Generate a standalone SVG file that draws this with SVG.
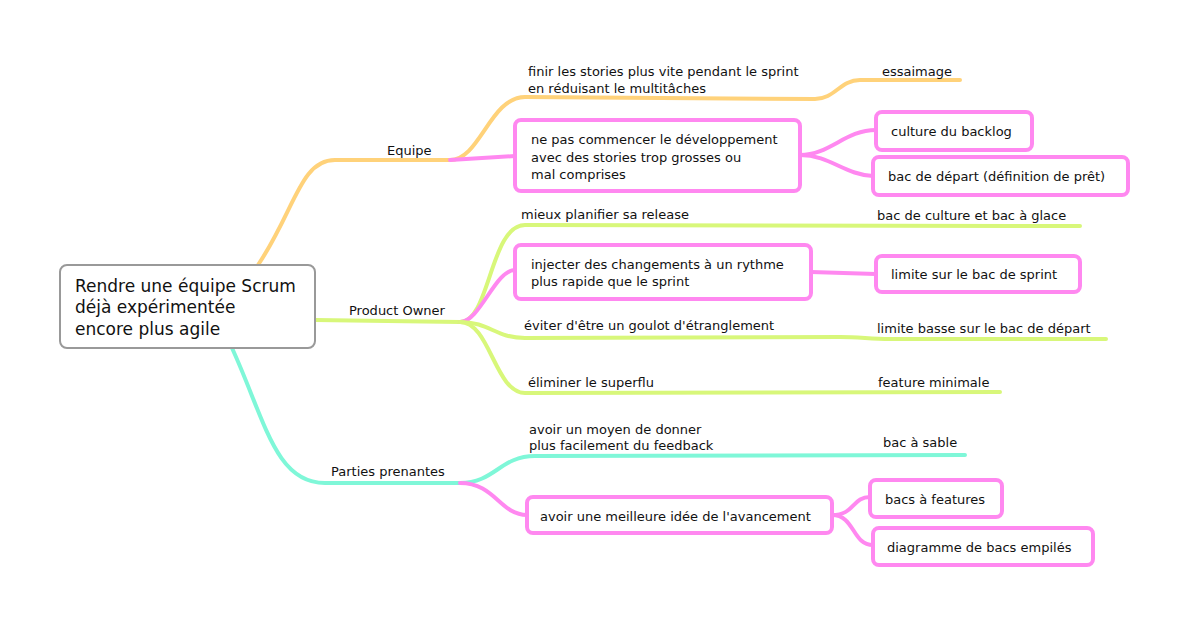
<svg xmlns="http://www.w3.org/2000/svg" width="1188" height="625" viewBox="0 0 1188 625">
<style>
text{font-family:"Lucida Grande","DejaVu Sans","Liberation Sans",sans-serif;font-size:13px;fill:#111}
.c{fill:none;stroke-width:4;stroke-linecap:round}
.o{stroke:#ffd27a}.g{stroke:#d8f77a}.t{stroke:#7ff7d8}.p{stroke:#ff88f0}
.b{fill:#fff;stroke:#ff88f0;stroke-width:4}
</style>
<rect width="1188" height="625" fill="#fff"/>
<g id="connectors">
<path class="c o" d="M258,265 C295,210 300,160 335,160 L450,160"/>
<path class="c o" d="M450,160 C480,160 490,97 525,97 L815,99 C835,99 840,80 860,80 L960,80"/>
<path class="c p" d="M450,160 L515,156"/>
<path class="c p" d="M800,155 C830,155 845,130 876,130"/>
<path class="c p" d="M800,155 C830,155 845,175 873,176"/>
<path class="c g" d="M315,320 L460,322"/>
<path class="c g" d="M460,322 C490,322 490,225 525,225 L1080,226"/>
<path class="c p" d="M460,322 C480,322 495,270 515,270"/>
<path class="c g" d="M460,322 C490,322 495,338 525,338 L840,337 C860,337 870,339 890,339 L1106,339"/>
<path class="c g" d="M460,322 C490,322 495,393 525,393 L1000,392"/>
<path class="c p" d="M811,272 L876,274"/>
<path class="c t" d="M232,348 C265,420 275,483 325,483 L460,483"/>
<path class="c t" d="M460,483 C495,483 500,456 535,456 L965,455"/>
<path class="c p" d="M460,483 C495,483 500,515 527,515"/>
<path class="c p" d="M832,515 C855,515 852,497 870,497"/>
<path class="c p" d="M832,515 C855,515 852,545 873,545"/>
</g>
<g id="root"><rect x="60" y="265" width="255" height="83" rx="7" fill="#fff" stroke="#999" stroke-width="2"/>
<text x="75" y="292" style="font-size:17px">Rendre une équipe Scrum</text>
<text x="75" y="313" style="font-size:17px">déjà expérimentée</text>
<text x="75" y="335" style="font-size:17px">encore plus agile</text></g>
<g id="equipe"><text x="387" y="155">Equipe</text></g>
<g id="finir"><text x="528" y="76">finir les stories plus vite pendant le sprint</text><text x="528" y="93">en réduisant le multitâches</text></g>
<g id="essaimage"><text x="882" y="76">essaimage</text></g>
<g id="nepas"><rect class="b" x="515" y="120" width="285" height="71" rx="6"/>
<text x="531" y="144">ne pas commencer le développement</text><text x="531" y="162">avec des stories trop grosses ou</text><text x="531" y="179">mal comprises</text></g>
<g id="culture"><rect class="b" x="876" y="112" width="156" height="38" rx="6"/><text x="891" y="136">culture du backlog</text></g>
<g id="depart"><rect class="b" x="873" y="157" width="255" height="38" rx="6"/><text x="888" y="181">bac de départ (définition de prêt)</text></g>
<g id="po"><text x="349" y="315">Product Owner</text></g>
<g id="mieux"><text x="521" y="219">mieux planifier sa release</text></g>
<g id="bacculture"><text x="877" y="220">bac de culture et bac à glace</text></g>
<g id="injecter"><rect class="b" x="515" y="245" width="296" height="54" rx="6"/><text x="531" y="269">injecter des changements à un rythme</text><text x="531" y="286">plus rapide que le sprint</text></g>
<g id="limite"><rect class="b" x="876" y="256" width="204" height="36" rx="6"/><text x="891" y="279">limite sur le bac de sprint</text></g>
<g id="eviter"><text x="524" y="330">éviter d'être un goulot d'étranglement</text></g>
<g id="limitebasse"><text x="877" y="333">limite basse sur le bac de départ</text></g>
<g id="eliminer"><text x="528" y="387">éliminer le superflu</text></g>
<g id="featmin"><text x="878" y="387">feature minimale</text></g>
<g id="parties"><text x="331" y="476">Parties prenantes</text></g>
<g id="avoir"><text x="529" y="434">avoir un moyen de donner</text><text x="529" y="450">plus facilement du feedback</text></g>
<g id="sable"><text x="883" y="447">bac à sable</text></g>
<g id="idee"><rect class="b" x="527" y="497" width="305" height="36" rx="6"/><text x="540" y="521">avoir une meilleure idée de l'avancement</text></g>
<g id="bacsfeat"><rect class="b" x="870" y="480" width="132" height="37" rx="6"/><text x="885" y="504">bacs à features</text></g>
<g id="diag"><rect class="b" x="873" y="528" width="220" height="37" rx="6"/><text x="887" y="552">diagramme de bacs empilés</text></g>
</svg>
